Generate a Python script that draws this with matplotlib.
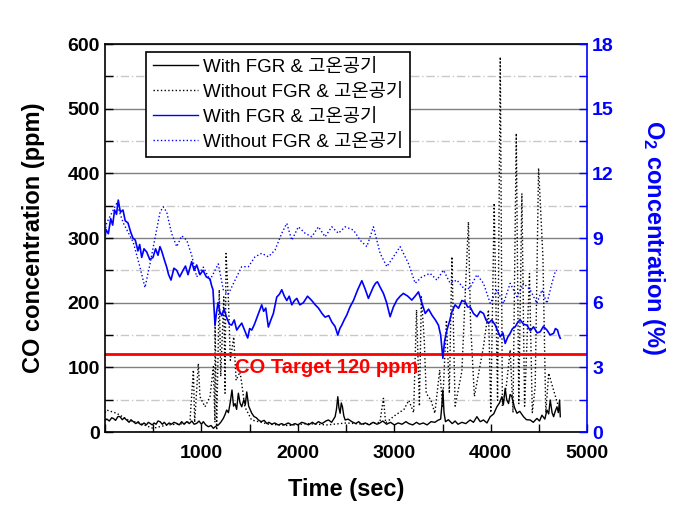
import matplotlib
matplotlib.use("Agg")
import matplotlib.pyplot as plt
from matplotlib.ticker import MultipleLocator
from matplotlib.lines import Line2D

plt.rcParams['font.family'] = ['Liberation Sans', 'DejaVu Sans']
plt.rcParams['font.weight'] = 'bold'
plt.rcParams['mathtext.fontset'] = 'custom'
plt.rcParams['mathtext.rm'] = 'Liberation Sans'
plt.rcParams['mathtext.bf'] = 'Liberation Sans:bold'

# CO with FGR (ppm)
t_co_fgr = [0, 20, 45, 70, 87, 110, 135, 156, 180, 200, 225, 250, 270, 294, 320, 345, 365, 381,
            405, 430, 450, 467, 490, 510, 530, 550, 571, 595, 615, 640, 665, 690, 715, 744, 770,
            795, 820, 848, 875, 900, 925, 951, 975, 1000, 1020, 1045, 1072, 1100, 1124, 1150,
            1175, 1200, 1227, 1245, 1262, 1280, 1297, 1317, 1333, 1349, 1365, 1383, 1400, 1418,
            1440, 1455, 1470, 1490, 1505, 1522, 1545, 1570, 1591, 1620, 1650, 1680, 1700, 1730,
            1760, 1798, 1830, 1860, 1900, 1937, 1970, 2000, 2040, 2075, 2110, 2150, 2180, 2213,
            2250, 2290, 2317, 2350, 2386, 2400, 2414, 2425, 2438, 2450, 2462, 2476, 2490, 2520,
            2559, 2600, 2630, 2660, 2700, 2740, 2780, 2820, 2850, 2880, 2920, 2960, 3000, 3040,
            3080, 3120, 3150, 3190, 3230, 3260, 3300, 3340, 3380, 3420, 3450, 3480, 3492, 3503,
            3515, 3530, 3560, 3600, 3630, 3660, 3700, 3740, 3786, 3820, 3856, 3890, 3924, 3960,
            3994, 4030, 4063, 4090, 4115, 4130, 4149, 4165, 4184, 4200, 4219, 4245, 4271, 4300,
            4339, 4370, 4409, 4440, 4478, 4505, 4530, 4560, 4582, 4600, 4616, 4635, 4651, 4670,
            4686, 4700, 4713, 4720]
co_fgr = [18, 20, 17, 22, 21, 18, 24, 23.7, 19, 22, 18.6, 15, 19, 16, 13, 16, 12, 10.8,
          14, 11, 15, 13.4, 11, 14, 12, 17, 16, 12, 15, 10.8, 14, 12, 15, 13.4, 11,
          16, 12, 16, 13, 17, 12, 13.4, 17, 12, 16, 11, 8.2, 10, 5.7, 9,
          10.8, 15, 21, 27, 34, 30, 44, 65, 40, 44, 35, 60, 45, 39,
          50, 42, 62, 40, 35, 29, 24, 22, 18.6, 16, 18, 13, 15, 12,
          14, 10.8, 13, 11, 14, 10.8, 13, 11, 15, 13.4, 11, 15, 12, 16,
          13, 17, 18.6, 15, 23.7, 35, 54.6, 38, 29, 45, 39, 25, 18.6, 20,
          16, 13, 16, 12, 14, 11, 15, 12, 14, 17, 12, 15, 11, 14,
          12, 16, 13, 11, 15, 12, 14, 11, 16, 15, 18, 20, 40, 65,
          30, 16, 19, 13, 17, 12, 15, 13, 18.6, 15, 23.7, 16, 18.6, 14,
          23.7, 28, 39, 45, 54.6, 42, 67.6, 50, 44, 58, 54.6, 38, 29, 32,
          23.7, 19, 18.6, 15, 21, 17, 26, 20, 34, 28, 49.5, 30, 23.7, 33,
          39, 30, 49.5, 23.7]

# CO without FGR (ppm)
t_co_nofgr = [0, 18, 121, 240, 363, 498, 640, 848, 882, 917, 930, 968, 985, 1037, 1089, 1124,
              1140, 1141, 1158, 1185, 1200, 1232, 1245, 1255, 1280, 1300, 1335, 1360, 1400,
              1418, 1450, 1520, 1700, 1900, 2100, 2300, 2500, 2700, 2850, 2887, 2910, 3000,
              3100, 3150, 3200, 3230, 3260, 3280, 3310, 3330, 3380, 3420, 3470, 3500, 3540,
              3570, 3597, 3630, 3700, 3768, 3790, 3830, 3924, 3976, 4000, 4035, 4070, 4098,
              4120, 4160, 4201, 4230, 4264, 4290, 4322, 4350, 4401, 4430, 4460, 4495, 4510,
              4540, 4570, 4600, 4640, 4700]
co_nofgr = [30, 34, 29, 18.6, 13.4, 5.7, 10.8, 13.4, 18.6, 96, 15, 106, 54.6, 39, 54.6, 101,
            15, 178, 3, 220, 86, 209, 60, 276, 204, 111, 147, 80, 93,
            75, 39, 18.6, 12, 10, 13, 11, 14, 12, 15, 52, 14, 25,
            35, 49, 30, 189, 40, 209, 142, 60, 49, 29, 96, 40, 173,
            60, 271, 40, 94, 325, 168, 55, 132, 189, 30, 354, 49, 580,
            40, 70, 127, 30, 462, 44, 369, 40, 245, 30, 70, 408, 364,
            271, 30, 91, 70, 40]

# O2 with FGR (%)
t_o2_fgr = [0, 10, 35, 60, 80, 100, 120, 138, 160, 187, 210, 239, 265, 290, 315, 342, 360, 381,
            405, 433, 465, 498, 525, 550, 570, 588, 615, 640, 660, 685, 715, 744, 775, 809, 835,
            861, 880, 899, 925, 951, 985, 1017, 1050, 1089, 1105, 1120, 1141, 1155, 1172, 1190,
            1211, 1235, 1262, 1290, 1314, 1340, 1366, 1392, 1418, 1450, 1480, 1500, 1522, 1550,
            1574, 1600, 1625, 1645, 1667, 1694, 1720, 1746, 1765, 1781, 1810, 1833, 1860, 1885,
            1910, 1937, 1965, 1989, 2020, 2057, 2100, 2144, 2180, 2213, 2250, 2282, 2320, 2352,
            2385, 2414, 2435, 2455, 2480, 2507, 2540, 2576, 2620, 2663, 2700, 2731, 2760, 2783,
            2805, 2825, 2855, 2887, 2920, 2956, 2990, 3026, 3060, 3094, 3140, 3181, 3215, 3250,
            3285, 3320, 3355, 3389, 3425, 3457, 3480, 3503, 3520, 3545, 3570, 3597, 3630, 3665,
            3700, 3734, 3760, 3786, 3820, 3856, 3890, 3924, 3950, 3976, 4010, 4046, 4070, 4098,
            4125, 4149, 4175, 4201, 4225, 4253, 4280, 4305, 4340, 4374, 4410, 4443, 4480, 4512,
            4545, 4582, 4615, 4651, 4670, 4692, 4705, 4720]
o2_fgr = [8.9, 9.4, 9.2, 9.9, 9.6, 10.3, 10.1, 10.76, 10.2, 10.3, 9.8, 9.7, 9.3, 9.0, 8.9, 8.4, 8.7, 8.1,
          8.5, 8.35, 8.0, 8.1, 8.5, 8.2, 8.6, 8.4, 8.0, 7.65, 7.3, 7.05, 7.6, 7.5, 7.2, 7.5, 7.7,
          7.3, 7.6, 7.9, 7.5, 7.75, 7.3, 7.5, 7.2, 7.1, 6.8, 6.6, 4.96, 5.5, 6.0, 5.6,
          5.4, 5.7, 5.3, 5.0, 4.96, 5.2, 4.73, 4.9, 5.05, 4.7, 4.36, 4.8, 4.73, 5.0,
          5.29, 5.6, 5.9, 5.6, 5.75, 4.87, 5.2, 5.5, 5.9, 6.26, 6.4, 6.6, 6.3, 6.1,
          6.3, 5.9, 6.1, 6.2, 5.9, 6.0, 6.3, 6.1, 5.9, 5.75, 5.5, 5.33, 5.4, 5.1,
          4.9, 4.5, 4.8, 4.96, 5.2, 5.43, 5.8, 6.1, 6.6, 7.02, 6.6, 6.2, 6.5, 6.74,
          6.9, 6.97, 6.7, 6.43, 6.0, 5.35, 5.8, 6.12, 6.3, 6.43, 6.3, 6.12, 6.3, 6.5,
          6.0, 5.5, 5.7, 5.43, 5.2, 4.96, 4.5, 3.42, 4.2, 4.73, 5.1, 5.58, 5.9, 5.74,
          6.1, 6.04, 5.8, 5.8, 5.5, 5.35, 5.6, 5.5, 5.2, 5.04, 5.2, 4.96, 4.7, 4.42,
          4.6, 4.11, 4.4, 4.58, 4.8, 4.88, 5.1, 5.2, 5.0, 4.96, 4.7, 4.88, 4.6, 4.65,
          4.9, 4.73, 4.5, 4.58, 4.8, 4.73, 4.5, 4.35]

# O2 without FGR (%)
t_o2_nofgr = [0, 18, 121, 190, 294, 363, 415, 467, 519, 571, 605, 640, 692, 744, 796, 848, 899,
              951, 1020, 1089, 1175, 1227, 1279, 1349, 1418, 1487, 1556, 1625, 1694, 1763,
              1833, 1885, 1937, 2005, 2075, 2144, 2213, 2282, 2352, 2420, 2490, 2576, 2645,
              2715, 2783, 2853, 2922, 2991, 3060, 3146, 3216, 3285, 3371, 3441, 3509, 3579,
              3648, 3734, 3786, 3856, 3924, 3994, 4063, 4132, 4201, 4271, 4339, 4409, 4478,
              4530, 4582, 4633, 4668, 4686]
o2_nofgr = [9.3, 9.7, 10.6, 9.7, 8.8, 7.65, 6.7, 7.8, 9.0, 10.2, 10.45, 10.2, 9.2, 8.6, 9.1, 8.9, 8.2,
            7.2, 7.65, 7.05, 7.8, 6.6, 6.4, 7.05, 7.67, 7.67, 8.13, 8.29, 8.13, 8.44,
            9.22, 9.68, 8.9, 9.52, 9.22, 9.06, 9.52, 9.06, 9.52, 9.22, 9.52, 9.37, 8.9,
            8.6, 9.52, 8.29, 7.67, 8.13, 8.6, 7.82, 6.9, 7.2, 7.36, 7.05, 7.51, 6.9,
            7.05, 6.59, 6.7, 7.3, 6.9, 5.97, 6.59, 5.97, 6.9, 6.28, 6.9, 6.59, 5.97,
            6.59, 5.97, 6.9, 7.44, 7.5]

legend_labels = ["With FGR & 고온공기", "Without FGR & 고온공기",
                 "With FGR & 고온공기", "Without FGR & 고온공기"]
co_target = 120

fig = plt.figure(figsize=(6.95, 5.18), dpi=100)
ax = fig.add_axes([0.151, 0.166, 0.694, 0.749])
ax2 = ax.twinx()

ax.set_axisbelow(True)
ax.yaxis.grid(True, which='major', color='#808080', lw=1, ls='-')
ax.yaxis.grid(True, which='minor', color='#c8c8c8', lw=1, ls=(0, (6, 2, 1, 2)))

ax.plot(t_co_fgr, co_fgr, color='black', lw=1.0, ls='-')
ax.plot(t_co_nofgr, co_nofgr, color='black', lw=1.0, ls=':')
ax.axhline(co_target, color='red', lw=2)
ax.text(1350, 99, "CO Target 120 ppm", color='red', fontsize=14.5, fontweight='bold',
        va='center', ha='left')

ax2.plot(t_o2_fgr, o2_fgr, color='blue', lw=1.2, ls='-')
ax2.plot(t_o2_nofgr, o2_nofgr, color='blue', lw=1.0, ls=':')

ax.set_xlim(0, 5000)
ax.set_ylim(0, 600)
ax2.set_ylim(0, 18)
ax.set_xticks([1000, 2000, 3000, 4000, 5000])
ax.xaxis.set_minor_locator(MultipleLocator(500))
ax.yaxis.set_major_locator(MultipleLocator(100))
ax.yaxis.set_minor_locator(MultipleLocator(50))
ax2.yaxis.set_major_locator(MultipleLocator(3))
ax2.yaxis.set_minor_locator(MultipleLocator(1.5))

for a in (ax, ax2):
    a.tick_params(which='both', direction='in', length=6, width=1, labelsize=14)
ax.tick_params(axis='x', which='both', top=False, pad=9)
ax2.tick_params(axis='y', which='both', colors='blue', labelcolor='blue')
ax.tick_params(axis='y', which='both', right=False)

for s in ax.spines.values():
    s.set_linewidth(1.2)
ax2.spines['right'].set_color('blue')
ax2.spines['right'].set_linewidth(1.2)
ax2.spines['left'].set_visible(False)
ax2.spines['top'].set_visible(False)
ax2.spines['bottom'].set_visible(False)
ax.spines['right'].set_visible(False)

ax.set_xlabel("Time (sec)", fontsize=17, fontweight='bold', labelpad=12)
ax.set_ylabel("CO concentration (ppm)", fontsize=17, fontweight='bold', labelpad=16)
ax2.set_ylabel(r"$\mathbf{O_2}$ concentration (%)", fontsize=17, fontweight='bold',
               color='blue', rotation=270, labelpad=38)

handles = [Line2D([], [], color='black', lw=1, ls='-'),
           Line2D([], [], color='black', lw=1, ls=':'),
           Line2D([], [], color='blue', lw=1, ls='-'),
           Line2D([], [], color='blue', lw=1, ls=':')]
leg = ax2.legend(handles, legend_labels, loc='upper left', bbox_to_anchor=(0.085, 0.979),
                 borderaxespad=0, fancybox=False, framealpha=1, edgecolor='black',
                 handlelength=2.4, handletextpad=0.3, labelspacing=0.42, borderpad=0.35,
                 prop={'family': ['Liberation Sans', 'Noto Sans CJK KR'], 'size': 13.5,
                       'weight': 'normal'})
leg.get_frame().set_linewidth(1.2)

fig.savefig("out.png", dpi=100)
